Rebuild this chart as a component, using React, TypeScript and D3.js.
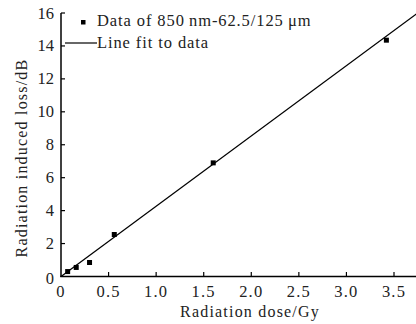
import React from "react";
import * as d3 from "d3";

const doseData = [0.07, 0.16, 0.3, 0.56, 1.6, 3.42];
const lossData = [0.3, 0.55, 0.85, 2.55, 6.9, 14.35];
const fitDose = [0, 3.76];
const fitLoss = [0, 16.05];
const xTicks = [0, 0.5, 1.0, 1.5, 2.0, 2.5, 3.0, 3.5];
const xTickLabels = ["0", "0.5", "1.0", "1.5", "2.0", "2.5", "3.0", "3.5"];
const yTicks = [0, 2, 4, 6, 8, 10, 12, 14, 16];
const legendLabels = ["Data of 850\u2009nm-62.5/125\u2009\u03bcm", "Line fit to data"];
const xTitle = "Radiation dose/Gy";
const yTitle = "Radiation induced loss/dB";

export default function App() {
  const W = 416, H = 324;
  const x = d3.scaleLinear().domain([0, 3.5]).range([61, 394]);
  const y = d3.scaleLinear().domain([0, 16]).range([276.5, 13]);
  const font = "Liberation Serif, Times New Roman, Times, serif";
  const line = d3.line<number>().x((d) => x(fitDose[d])).y((d) => y(fitLoss[d]));
  return (
    <svg width={W} height={H} style={{ position: "absolute", left: 0, top: 0, background: "#fff" }}>
      <defs>
        <clipPath id="plot"><rect x={61} y={0} width={W - 61} height={277} /></clipPath>
      </defs>
      <g fontFamily={font} fill="#222">
        <line x1={61} y1={13} x2={61} y2={277} stroke="#000" strokeWidth={1.5} />
        <line x1={60.25} y1={276.5} x2={W} y2={276.5} stroke="#000" strokeWidth={1.5} />
        {xTicks.map((t, i) => (
          <g key={"x" + i}>
            {i > 0 && <line x1={x(t)} x2={x(t)} y1={276.5} y2={272} stroke="#000" strokeWidth={1.2} />}
            <text x={x(t)} y={297} textAnchor="middle" fontSize={16.5} letterSpacing={1.2}>{xTickLabels[i]}</text>
          </g>
        ))}
        {yTicks.map((t, i) => (
          <g key={"y" + i}>
            {i > 0 && <line x1={61} x2={65} y1={y(t)} y2={y(t)} stroke="#000" strokeWidth={1.2} />}
            <text x={i === 0 ? 54 : 54} y={y(t) + 5.5 + (i === 0 ? 2 : 0)} textAnchor="end" fontSize={16.5}>{t}</text>
          </g>
        ))}
        <text x={250} y={317} textAnchor="middle" fontSize={16} letterSpacing={1.2}>{xTitle}</text>
        <text transform={`translate(27,${158}) rotate(-90)`} textAnchor="middle" fontSize={16} letterSpacing={1.2}>{yTitle}</text>
        <path d={line([0, 1]) || ""} fill="none" stroke="#000" strokeWidth={1.3} clipPath="url(#plot)" />
        {doseData.map((d, i) => (
          <rect key={"p" + i} x={x(d) - 2.5} y={y(lossData[i]) - 2.5} width={5} height={5} fill="#000" />
        ))}
        <rect x={81} y={20} width={4.5} height={4.5} fill="#000" />
        <text x={97} y={26} fontSize={16.5} letterSpacing={0.9}>{legendLabels[0]}</text>
        <line x1={65} x2={97} y1={43} y2={43} stroke="#000" strokeWidth={1.2} />
        <text x={97} y={48} fontSize={16.5} letterSpacing={0.9}>{legendLabels[1]}</text>
      </g>
    </svg>
  );
}
